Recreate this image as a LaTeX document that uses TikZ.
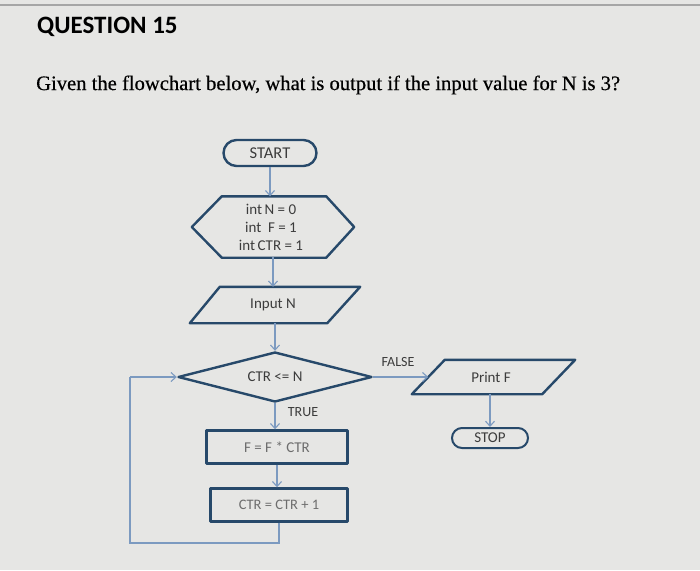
\documentclass[tikz,border=0pt]{standalone}
\usepackage{fontspec}
\setmainfont{Liberation Serif}
\newfontfamily\calfont{Carlito}
\newfontfamily\qfont[FakeBold=0.5]{Liberation Serif}
\usetikzlibrary{shapes.geometric,shapes.misc,arrows.meta,calc}
\definecolor{bgc}{HTML}{E6E6E4}
\definecolor{edgec}{HTML}{27496A}
\definecolor{connc}{HTML}{7C9AC0}
\definecolor{txtc}{HTML}{3C3C3C}
\begin{document}
\begin{tikzpicture}[x=1pt,y=-1pt,
  outline/.style={draw=edgec,line width=2.4pt,line join=round},
  conn/.style={draw=connc,line width=1.1pt,-{Straight Barb[length=5pt,width=9pt]}},
  loopline/.style={draw=connc,line width=1.1pt},
  shtxt/.style={text=txtc,font=\calfont\fontsize{15}{17}\selectfont,inner sep=0pt},
  lbl/.style={text=txtc,font=\calfont\fontsize{14}{15}\selectfont,inner sep=0pt}]
\fill[bgc] (0,0) rectangle (700,570);
\useasboundingbox (0,0) rectangle (700,570);
\draw[gray!70,line width=1.5pt] (0,5) -- (700,5);

\node[anchor=west,text=black,font=\calfont\bfseries\fontsize{25}{27}\selectfont,inner sep=0pt] (title) at (37,27) {QUESTION 15};
\node[anchor=west,text=black,font=\qfont\fontsize{20.6}{22}\selectfont,inner sep=0pt] (q) at (36,85) {Given the flowchart below, what is output if the input value for N is 3?};

% START
\node[outline,rounded rectangle,minimum width=93,minimum height=26,shtxt,font=\calfont\fontsize{16.5}{18}\selectfont] (start) at (270,153) {START};

% init hexagon
\node[minimum width=162,minimum height=61,inner sep=0pt] (init) at (273,227) {};
\draw[outline] ([xshift=30]init.north west) -- ([xshift=-28]init.north east) -- (init.east) -- ([xshift=-28]init.south east) -- ([xshift=30]init.south west) -- (init.west) -- cycle;
\node[shtxt,align=center,font=\calfont\fontsize{15}{18}\selectfont] (inittxt) at (271,227) {int\,N = 0\\ int \ F = 1\\ int\,CTR = 1};

% Input N
\node[minimum width=170,minimum height=36,inner sep=0pt] (inp) at (275,305) {};
\draw[outline] ([xshift=30]inp.north west) -- (inp.north east) -- ([xshift=-33]inp.south east) -- (inp.south west) -- cycle;
\node[shtxt] (inptxt) at (273,305) {Input N};

% decision
\node[outline,diamond,minimum width=194,minimum height=50,inner sep=0pt] (cond) at (275,377) {};
\node[shtxt] (condtxt) at (275,377) {CTR <= N};

% process boxes
\node[outline,rectangle,minimum width=141,minimum height=33,shtxt,text=txtc!75] (fbox) at (277,447) {F = F * CTR};
\node[outline,rectangle,minimum width=137,minimum height=33,shtxt,font=\calfont\fontsize{14.5}{16}\selectfont,text=txtc!75] (cbox) at (279,505) {CTR = CTR + 1};

% Print F
\node[minimum width=163,minimum height=34,inner sep=0pt] (prt) at (493.5,377) {};
\draw[outline] ([xshift=33]prt.north west) -- (prt.north east) -- ([xshift=-33]prt.south east) -- (prt.south west) -- cycle;
\node[shtxt] (prttxt) at (491,377) {Print F};
\coordinate (prtin) at ([xshift=16.5]prt.west);

% STOP
\node[draw=edgec,line width=2pt,rounded rectangle,minimum width=76,minimum height=20,shtxt,font=\calfont\fontsize{15}{16}\selectfont] (stop) at (490,438) {STOP};

% connectors
\draw[conn] (start.south) -- (start.south |- init.north);
\draw[conn] (inp.north -| init.south) ++(0,-30) coordinate (a1) -- (inp.north -| a1);
\draw[conn] (inp.south -| cond.north) -- (cond.north);
\draw[conn] (cond.south) -- (cond.south |- fbox.north);
\draw[conn] (fbox.south) -- (fbox.south |- cbox.north);
\draw[conn] (cond.east) -- (prtin);
\draw[conn] (stop.north |- prt.south) -- (stop.north);
\coordinate (lb) at (130,543);
\coordinate (lt) at (130,377);
\draw[loopline] (cbox.south) |- (lb) -- (lt);
\draw[conn] (lt) -- (cond.west);

\node[lbl] (ftrue) at (303,412) {TRUE};
\node[lbl] (ffalse) at (398,362) {FALSE};
\end{tikzpicture}
\end{document}
